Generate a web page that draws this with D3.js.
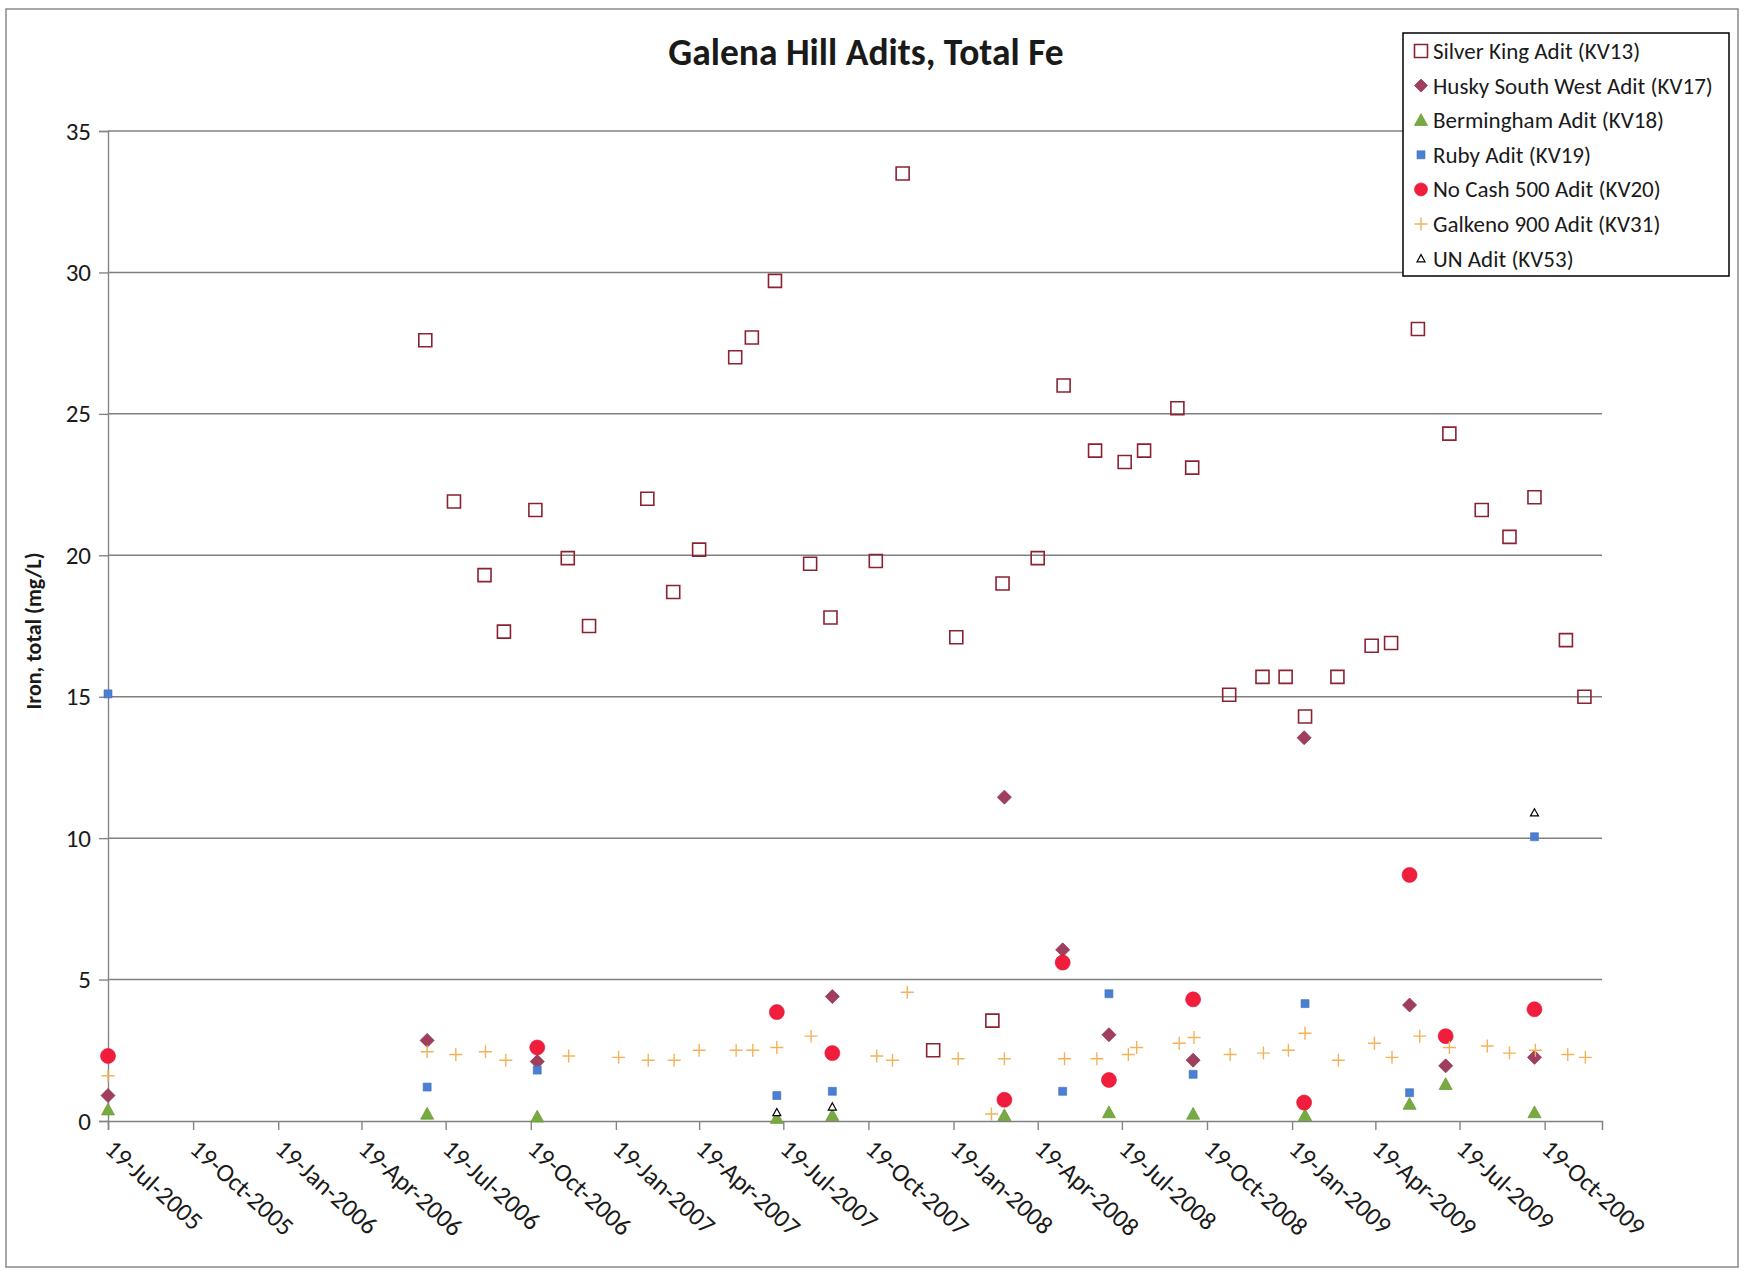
<!DOCTYPE html>
<html>
<head>
<meta charset="utf-8">
<script src="https://cdn.jsdelivr.net/npm/d3@7"></script>
<style>
  html, body { margin: 0; padding: 0; background: #ffffff; }
  svg { display: block; font-family: Carlito, Calibri, Lato, "Open Sans", sans-serif; }
</style>
</head>
<body>
<svg id="chart" width="1751" height="1271"></svg>
<script>
// ---------------- DATA ----------------
const chartTitle = "Galena Hill Adits, Total Fe";
const yAxisTitle = "Iron, total (mg/L)";
const yTicks = [0, 5, 10, 15, 20, 25, 30, 35];
const xTickDates = ["2005-07-19","2005-10-19","2006-01-19","2006-04-19","2006-07-19","2006-10-19",
  "2007-01-19","2007-04-19","2007-07-19","2007-10-19","2008-01-19","2008-04-19","2008-07-19",
  "2008-10-19","2009-01-19","2009-04-19","2009-07-19","2009-10-19"];
const xDomain = ["2005-07-19", "2009-12-20"];

const seriesNames = ["Silver King Adit (KV13)", "Husky South West Adit (KV17)", "Bermingham Adit (KV18)",
  "Ruby Adit (KV19)", "No Cash 500 Adit (KV20)", "Galkeno 900 Adit (KV31)", "UN Adit (KV53)"];

const silverKingDates = ["2006-06-27","2006-07-28","2006-08-30","2006-09-20","2006-10-24","2006-11-28",
  "2006-12-21","2007-02-22","2007-03-22","2007-04-19","2007-05-28","2007-06-15","2007-07-10","2007-08-17",
  "2007-09-08","2007-10-27","2007-11-25","2007-12-28","2008-01-22","2008-03-01","2008-03-12","2008-04-19",
  "2008-05-17","2008-06-20","2008-07-22","2008-08-12","2008-09-17","2008-10-03","2008-11-12","2008-12-18",
  "2009-01-12","2009-02-02","2009-03-09","2009-04-15","2009-05-06","2009-06-04","2009-07-08","2009-08-12",
  "2009-09-11","2009-10-08","2009-11-11","2009-12-01"];
const silverKingValues = [27.6, 21.9, 19.3, 17.3, 21.6, 19.9, 17.5, 22.0, 18.7, 20.2, 27.0, 27.7, 29.7, 19.7,
  17.8, 19.8, 33.5, 2.5, 17.1, 3.55, 19.0, 19.9, 26.0, 23.7, 23.3, 23.7, 25.2, 23.1, 15.07, 15.7,
  15.7, 14.3, 15.7, 16.8, 16.9, 28.0, 24.3, 21.6, 20.65, 22.05, 17.0, 15.0];

const huskyDates = ["2005-07-19","2006-06-29","2006-10-26","2007-09-10","2008-03-14","2008-05-16",
  "2008-07-05","2008-10-04","2009-02-01","2009-05-26","2009-07-04","2009-10-08"];
const huskyValues = [0.9, 2.85, 2.1, 4.4, 11.45, 6.05, 3.05, 2.15, 13.55, 4.1, 1.95, 2.25];

const berminghamDates = ["2005-07-19","2006-06-29","2006-10-26","2007-07-12","2007-09-10","2008-03-14",
  "2008-07-05","2008-10-04","2009-02-02","2009-05-26","2009-07-04","2009-10-08"];
const berminghamValues = [0.4, 0.25, 0.15, 0.1, 0.2, 0.2, 0.3, 0.25, 0.2, 0.6, 1.3, 0.3];

const rubyDates = ["2005-07-19","2006-06-29","2006-10-26","2007-07-12","2007-09-10","2008-05-16",
  "2008-07-05","2008-10-04","2009-02-02","2009-05-26","2009-10-08"];
const rubyValues = [15.1, 1.2, 1.8, 0.9, 1.05, 1.05, 4.5, 1.65, 4.15, 1.0, 10.05];

const noCashDates = ["2005-07-19","2006-10-26","2007-07-12","2007-09-10","2008-03-14","2008-05-16",
  "2008-07-05","2008-10-04","2009-02-01","2009-05-26","2009-07-04","2009-10-08"];
const noCashValues = [2.3, 2.6, 3.85, 2.4, 0.75, 5.6, 1.45, 4.3, 0.65, 8.7, 3.0, 3.95];

const galkenoDates = ["2005-07-19","2006-06-29","2006-07-30","2006-08-31","2006-09-22","2006-11-29",
  "2007-01-22","2007-02-23","2007-03-23","2007-04-19","2007-05-29","2007-06-16","2007-07-12","2007-08-18",
  "2007-10-28","2007-11-14","2007-11-30","2008-01-24","2008-02-29","2008-03-14","2008-05-18","2008-06-22",
  "2008-07-26","2008-08-04","2008-09-19","2008-10-05","2008-11-13","2008-12-19","2009-01-15","2009-02-02",
  "2009-03-10","2009-04-18","2009-05-07","2009-06-06","2009-07-08","2009-08-18","2009-09-11","2009-10-09",
  "2009-11-13","2009-12-02"];
const galkenoValues = [1.6, 2.45, 2.35, 2.45, 2.15, 2.3, 2.25, 2.15, 2.15, 2.5, 2.5, 2.5, 2.6, 3.0,
  2.3, 2.15, 4.55, 2.2, 0.25, 2.2, 2.2, 2.2, 2.35, 2.6, 2.75, 2.95, 2.35, 2.4, 2.5, 3.1,
  2.15, 2.75, 2.25, 3.0, 2.6, 2.65, 2.4, 2.5, 2.35, 2.25];

const unDates = ["2007-07-12","2007-09-10","2009-10-08"];
const unValues = [0.3, 0.5, 10.9];

// ---------------- STYLE / LAYOUT ----------------
const W = 1751, H = 1271;
const plot = { left: 108, right: 1602, top: 131, bottom: 1121 };
const parse = d3.timeParse("%Y-%m-%d");
const fmt = d3.timeFormat("%d-%b-%Y");
const FONT = "Carlito, Calibri, Lato, sans-serif";

const seriesStyles = [
  { shape: "square",   size: 13, fill: "none",    stroke: "#8b2232", sw: 1.6 },
  { shape: "diamond",  size: 14, fill: "#a03f5d", stroke: "#8e3452", sw: 0.8 },
  { shape: "triangle", size: 13, fill: "#78aa42", stroke: "#6a9a38", sw: 0.8 },
  { shape: "square",   size: 8,  fill: "#4a7fd2", stroke: "#3f70c0", sw: 0.6 },
  { shape: "circle",   size: 15, fill: "#f11d3c", stroke: "#e0142f", sw: 0.6 },
  { shape: "plus",     size: 13, fill: "none",    stroke: "#f3b259", sw: 1.4 },
  { shape: "triangle", size: 8,  fill: "#ffffff", stroke: "#000000", sw: 1.2 }
];

const allSeries = [
  [silverKingDates, silverKingValues],
  [huskyDates, huskyValues],
  [berminghamDates, berminghamValues],
  [rubyDates, rubyValues],
  [noCashDates, noCashValues],
  [galkenoDates, galkenoValues],
  [unDates, unValues]
].map(([ds, vs], i) => ({
  name: seriesNames[i],
  style: seriesStyles[i],
  points: ds.map((d, j) => ({ date: parse(d), value: vs[j] }))
}));

function markerPath(shape, s) {
  const p = d3.path();
  const h = s / 2;
  if (shape === "square") { p.rect(-h, -h, s, s); }
  else if (shape === "diamond") { p.moveTo(0, -h); p.lineTo(h, 0); p.lineTo(0, h); p.lineTo(-h, 0); p.closePath(); }
  else if (shape === "triangle") { p.moveTo(0, -h); p.lineTo(h, h * 0.8); p.lineTo(-h, h * 0.8); p.closePath(); }
  else if (shape === "circle") { p.moveTo(h, 0); p.arc(0, 0, h, 0, 2 * Math.PI); p.closePath(); }
  else if (shape === "plus") { p.moveTo(-h, 0); p.lineTo(h, 0); p.moveTo(0, -h); p.lineTo(0, h); }
  return p.toString();
}

// ---------------- DRAW ----------------
const svg = d3.select("#chart");
svg.append("rect").attr("width", W).attr("height", H).attr("fill", "#ffffff");

// chart area border
svg.append("rect").attr("x", 6).attr("y", 9).attr("width", 1732).attr("height", 1258)
  .attr("fill", "#ffffff").attr("stroke", "#8a8a8a").attr("stroke-width", 1.5);

const x = d3.scaleTime().domain(xDomain.map(parse)).range([plot.left, plot.right]);
const y = d3.scaleLinear().domain([0, 35]).range([plot.bottom, plot.top]);

// gridlines
svg.append("g").selectAll("line").data(yTicks.filter(t => t > 0)).join("line")
  .attr("x1", plot.left).attr("x2", plot.right)
  .attr("y1", d => y(d)).attr("y2", d => y(d))
  .attr("stroke", "#808080").attr("stroke-width", 1.5);

// y axis
const yAxis = d3.axisLeft(y).tickValues(yTicks).tickSize(9).tickPadding(8).tickFormat(d3.format("d"));
const gy = svg.append("g").attr("transform", `translate(${plot.left},0)`).call(yAxis);
gy.select(".domain").attr("stroke", "#858585").attr("stroke-width", 1.4);
gy.selectAll(".tick line").attr("stroke", "#858585").attr("stroke-width", 1.4);
gy.selectAll(".tick text").attr("font-size", 25).attr("fill", "#1a1a1a").attr("font-family", FONT);

// x axis
const xAxis = d3.axisBottom(x).tickValues(xTickDates.map(parse)).tickSize(9).tickFormat(fmt);
const gx = svg.append("g").attr("transform", `translate(0,${plot.bottom})`).call(xAxis);
gx.select(".domain").attr("stroke", "#808080").attr("stroke-width", 1.5);
gx.selectAll(".tick line").attr("stroke", "#858585").attr("stroke-width", 1.4);
gx.selectAll(".tick text")
  .attr("font-size", 25.5).attr("fill", "#1a1a1a").attr("font-family", FONT)
  .attr("text-anchor", "start").attr("dy", null).attr("y", 0)
  .attr("transform", "translate(-5,30) rotate(42)");

// series
allSeries.forEach(s => {
  svg.append("g").selectAll("path").data(s.points).join("path")
    .attr("d", markerPath(s.style.shape, s.style.size))
    .attr("transform", d => `translate(${x(d.date)},${y(d.value)})`)
    .attr("fill", s.style.fill).attr("stroke", s.style.stroke).attr("stroke-width", s.style.sw);
});

// title
svg.append("text").attr("x", 866).attr("y", 65).attr("text-anchor", "middle")
  .attr("font-size", 37.5).attr("font-weight", "bold").attr("fill", "#1a1a1a").attr("font-family", FONT)
  .text(chartTitle);

// y axis title
svg.append("text").attr("transform", "translate(41,631) rotate(-90)").attr("text-anchor", "middle")
  .attr("font-size", 22).attr("font-weight", "bold").attr("fill", "#1a1a1a").attr("font-family", FONT)
  .text(yAxisTitle);

// legend
const lg = svg.append("g");
lg.append("rect").attr("x", 1403).attr("y", 33).attr("width", 326).attr("height", 243)
  .attr("fill", "#ffffff").attr("stroke", "#000000").attr("stroke-width", 1.5);
const rows = lg.selectAll("g.row").data(allSeries).join("g").attr("class", "row")
  .attr("transform", (d, i) => `translate(1421,${51 + i * 34.6})`);
rows.append("path").attr("d", d => markerPath(d.style.shape, Math.min(d.style.size, 13)))
  .attr("fill", d => d.style.fill).attr("stroke", d => d.style.stroke).attr("stroke-width", d => d.style.sw);
rows.append("text").attr("x", 12).attr("y", 8).attr("font-size", 23).attr("fill", "#1a1a1a")
  .attr("font-family", FONT)
  .text(d => d.name);
</script>
</body>
</html>
